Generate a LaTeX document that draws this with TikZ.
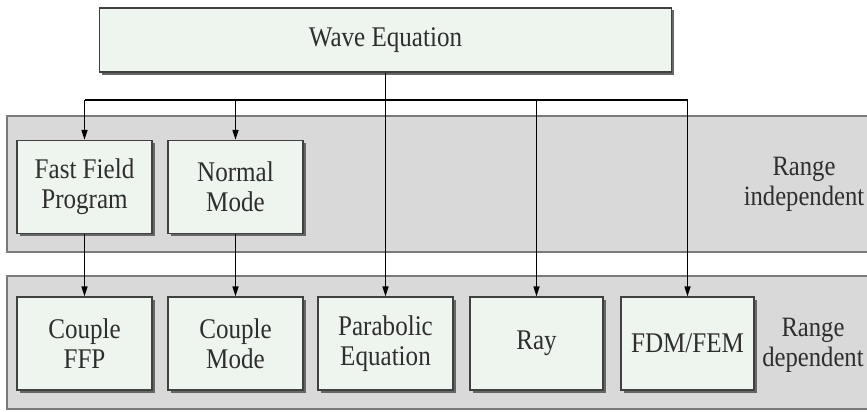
\documentclass[tikz,border=0pt]{standalone}
\usepackage{fontspec}
\setmainfont{Liberation Serif}[FakeStretch=0.88]
\usetikzlibrary{arrows.meta,shadows}
\definecolor{boxfill}{HTML}{EEF4EE}
\definecolor{bandfill}{HTML}{D9D9D9}
\definecolor{bandline}{HTML}{7A7A7A}
\definecolor{txt}{HTML}{2E2E2E}
\tikzset{
  box/.style={draw=black!75, line width=1.2pt, fill=boxfill, text=txt,
    minimum width=135pt, minimum height=93pt, inner sep=0pt, align=center,
    font=\fontsize{28.5}{30}\selectfont,
    drop shadow={shadow xshift=2.5pt, shadow yshift=-2.5pt, fill=black!60, opacity=1}},
  band/.style={draw=bandline, line width=2pt, fill=bandfill},
  lbl/.style={text=txt, align=center, font=\fontsize{28}{30}\selectfont},
  conn/.style={line width=1.3pt, draw=black},
  arr/.style={conn, -{Triangle[length=10pt,width=6pt]}}
}
\begin{document}
\begin{tikzpicture}[x=1pt,y=-1pt]
\useasboundingbox (0,0) rectangle (867,412);
\clip (0,0) rectangle (867,412);
\fill[white] (0,0) rectangle (867,412);
% bands
\draw[band] (7,116) rectangle (880,252);
\draw[band] (7,276) rectangle (880,409);
% nodes
\node[box, minimum width=572pt, minimum height=64pt] (wave) at (385.5,40) {Wave Equation};
\node[box] (ffp) at (84.5,187) {Fast Field\\Program};
\node[box] (nm) at (235.5,187) {Normal\\Mode};
\node[box] (cffp) at (84.5,343.5) {Couple\\FFP};
\node[box] (cmode) at (235.5,343.5) {Couple\\Mode};
\node[box] (pe) at (385.5,343.5) {Parabolic\\Equation};
\node[box, minimum width=133pt] (ray) at (536.5,343.5) {Ray};
\node[box, minimum width=133pt] (fdm) at (687.5,343.5) {FDM/FEM};
\node[lbl] (ri) at (804,184) {Range\\independent};
\node[lbl] (rd) at (813,345) {Range\\dependent};
% connectors
\coordinate (bus) at (0,100);
\draw[arr] (wave.south) -- (pe.north);
\draw[conn] (ffp.north |- bus) -- (fdm.north |- bus);
\draw[arr] (ffp.north |- bus) -- (ffp.north);
\draw[arr] (nm.north |- bus) -- (nm.north);
\draw[arr] (ray.north |- bus) -- (ray.north);
\draw[arr] (fdm.north |- bus) -- (fdm.north);
\draw[arr] (ffp.south) -- (cffp.north);
\draw[arr] (nm.south) -- (cmode.north);
\end{tikzpicture}
\end{document}
